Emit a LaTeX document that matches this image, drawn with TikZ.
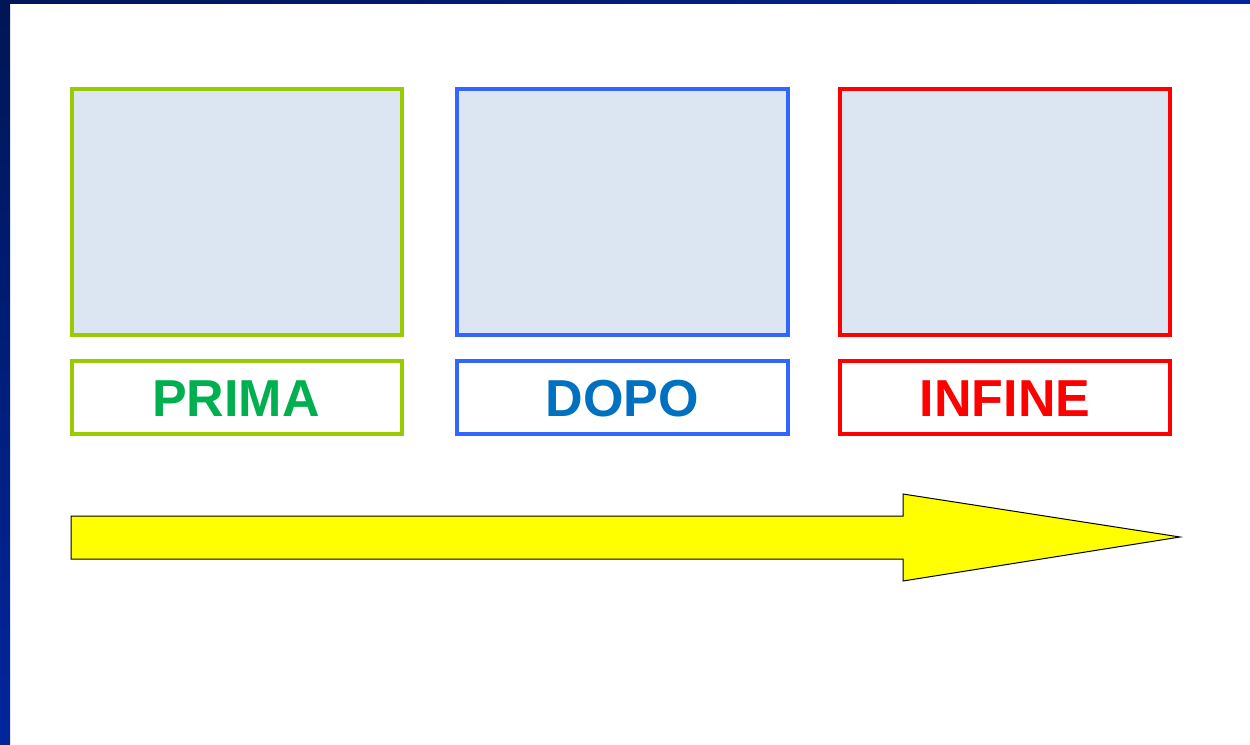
\documentclass[tikz,border=0pt]{standalone}
\usepackage{fontspec}
\setmainfont{Liberation Sans}
\definecolor{boxfill}{HTML}{DCE6F2}
\definecolor{gstroke}{HTML}{99CC00}
\definecolor{gtext}{HTML}{00B050}
\definecolor{bstroke}{HTML}{3366FF}
\definecolor{btext}{HTML}{0070C0}
\definecolor{rstroke}{HTML}{FF0000}
\definecolor{arrowyellow}{RGB}{255,255,0}
\definecolor{navytop}{HTML}{001655}
\definecolor{navybot}{HTML}{00269E}
\tikzset{
  frame/.style={line width=2pt},
  lbl/.style={font=\bfseries\fontsize{26}{30}\selectfont, inner sep=0pt},
}
\begin{document}
\begin{tikzpicture}[x=0.5pt,y=-0.5pt]
\useasboundingbox (0,0) rectangle (1250,745);
\fill[white] (0,0) rectangle (1250,745);
\shade[top color=navytop,bottom color=navybot] (0,0) rectangle (10,745);
\shade[left color=navytop,right color=navybot] (0,0) rectangle (1250,3);
% image boxes
\draw[frame,draw=gstroke,fill=boxfill] (72,89) rectangle (402,335);
\draw[frame,draw=bstroke,fill=boxfill] (457,89) rectangle (788,335);
\draw[frame,draw=rstroke,fill=boxfill] (840,89) rectangle (1170,335);
% label boxes
\draw[frame,draw=gstroke] (72,361) rectangle (402,434);
\draw[frame,draw=bstroke] (457,361) rectangle (788,434);
\draw[frame,draw=rstroke] (840,361) rectangle (1170,434);
\node[lbl,text=gtext] (prima) at (236,399) {PRIMA};
\node[lbl,text=btext] (dopo) at (622.5,399) {DOPO};
\node[lbl,text=rstroke] (infine) at (1005,399) {INFINE};
% arrow
\draw[fill=arrowyellow,draw=black,line width=0.5pt,line join=miter]
  (71,516) -- (903,516) -- (903,494) -- (1180,537) -- (903,581) -- (903,559) -- (71,559) -- cycle;
\end{tikzpicture}
\end{document}
